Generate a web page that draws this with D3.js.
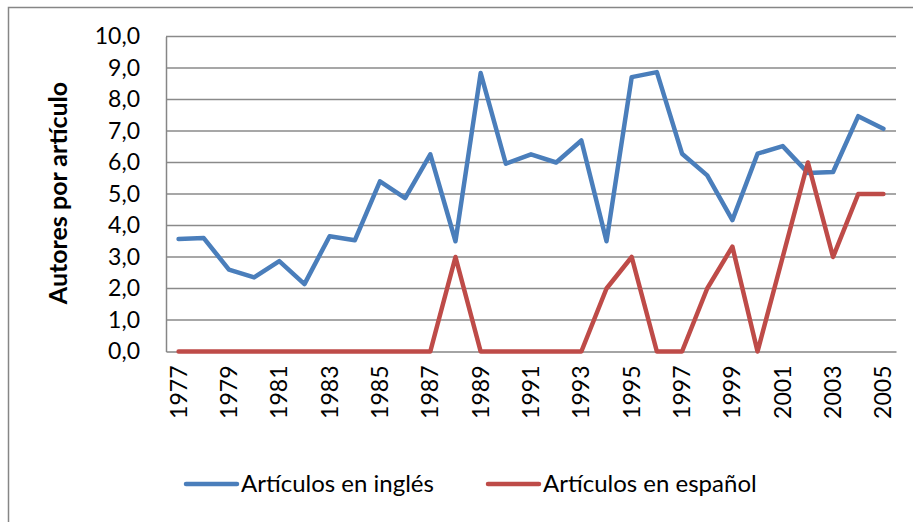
<!DOCTYPE html>
<html>
<head>
<meta charset="utf-8">
<script src="https://cdn.jsdelivr.net/npm/d3@7"></script>
<style>
	body { margin: 0; background: #fff; }
	svg { display: block; font-family: Lato, "Open Sans", sans-serif; }
</style>
</head>
<body>
<div id="chart"></div>
<script>
const years = d3.range(1977, 2006).map(String);
const tickYears = years.filter((y, i) => i % 2 === 0);
const yTicks = [0, 1, 2, 3, 4, 5, 6, 7, 8, 9, 10];

// autores por artículo
const ingles = [3.57, 3.6, 2.6, 2.35, 2.87, 2.14, 3.66, 3.53, 5.4, 4.87, 6.26, 3.5, 8.84, 5.96, 6.26, 6.0, 6.7, 3.5, 8.71, 8.87, 6.28, 5.59, 4.17, 6.28, 6.52, 5.67, 5.7, 7.47, 7.07];
const espanol = [0, 0, 0, 0, 0, 0, 0, 0, 0, 0, 0, 3, 0, 0, 0, 0, 0, 2, 3, 0, 0, 2, 3.33, 0, 3, 6, 3, 5, 5];

const series = [
	{ name: 'Artículos en inglés', values: ingles, color: '#4a7ebb' },
	{ name: 'Artículos en español', values: espanol, color: '#be4b48' }
];

const width = 913, height = 522;
const margin = { top: 36.5, right: 17, bottom: 170.5, left: 166 };
const fontSize = 23;

const svg = d3.select('#chart').append('svg')
	.attr('width', width)
	.attr('height', height);

// chart border
svg.append('rect')
	.attr('x', 8.5).attr('y', 7.5)
	.attr('width', 920).attr('height', 530)
	.attr('fill', 'none')
	.attr('stroke', '#868686')
	.attr('stroke-width', 1.5);

const x = d3.scaleBand()
	.domain(years)
	.range([margin.left, width - margin.right]);

const y = d3.scaleLinear()
	.domain([0, 10])
	.range([height - margin.bottom, margin.top]);

// gridlines
svg.append('g')
	.selectAll('line')
	.data(yTicks.slice(1))
	.join('line')
	.attr('x1', margin.left).attr('x2', width - margin.right)
	.attr('y1', d => y(d)).attr('y2', d => y(d))
	.attr('stroke', '#8a8a8a')
	.attr('stroke-width', 1.5);

// y axis
const yAxis = svg.append('g')
	.attr('transform', `translate(${margin.left}, 0)`)
	.call(d3.axisLeft(y)
		.tickValues(yTicks)
		.tickFormat(d => d3.format('.1f')(d).replace('.', ','))
		.tickSize(0)
		.tickPadding(26));
yAxis.select('.domain').attr('stroke', '#868686').attr('stroke-width', 1.5);
yAxis.selectAll('text')
	.attr('font-size', fontSize)
	.attr('fill', '#000')
	.attr('font-family', 'Lato, sans-serif');

// x axis
const xAxis = svg.append('g')
	.attr('transform', `translate(0, ${y(0)})`)
	.call(d3.axisBottom(x)
		.tickValues(tickYears)
		.tickSize(0)
		.tickPadding(0));
xAxis.select('.domain').attr('stroke', '#868686').attr('stroke-width', 1.5);
xAxis.selectAll('text')
	.attr('font-size', fontSize)
	.attr('fill', '#000')
	.attr('font-family', 'Lato, sans-serif')
	.attr('transform', 'rotate(-90)')
	.attr('text-anchor', 'end')
	.attr('dy', '0.35em')
	.attr('dx', '-14')
	.attr('x', 0)
	.attr('y', 0);

// y axis title
svg.append('text')
	.attr('transform', `translate(67, ${y(5) - 1}) rotate(-90)`)
	.attr('text-anchor', 'middle')
	.attr('font-size', 25)
	.attr('font-weight', 'bold')
	.text('Autores por artículo');

// lines
const line = d3.line()
	.x((d, i) => x(years[i]) + x.bandwidth() / 2)
	.y(d => y(d));

svg.append('g')
	.selectAll('path')
	.data(series)
	.join('path')
	.attr('d', d => line(d.values))
	.attr('fill', 'none')
	.attr('stroke', d => d.color)
	.attr('stroke-width', 4.5)
	.attr('stroke-linejoin', 'round')
	.attr('stroke-linecap', 'round');

// legend
const legend = svg.append('g')
	.selectAll('g')
	.data(series)
	.join('g')
	.attr('transform', (d, i) => `translate(${[186, 488][i]}, 484)`);

legend.append('line')
	.attr('x1', 0).attr('x2', 51)
	.attr('stroke', d => d.color)
	.attr('stroke-width', 4.5)
	.attr('stroke-linecap', 'round');

legend.append('text')
	.attr('x', 55)
	.attr('dy', '0.35em')
	.attr('font-size', 24)
	.text(d => d.name);
</script>
</body>
</html>
